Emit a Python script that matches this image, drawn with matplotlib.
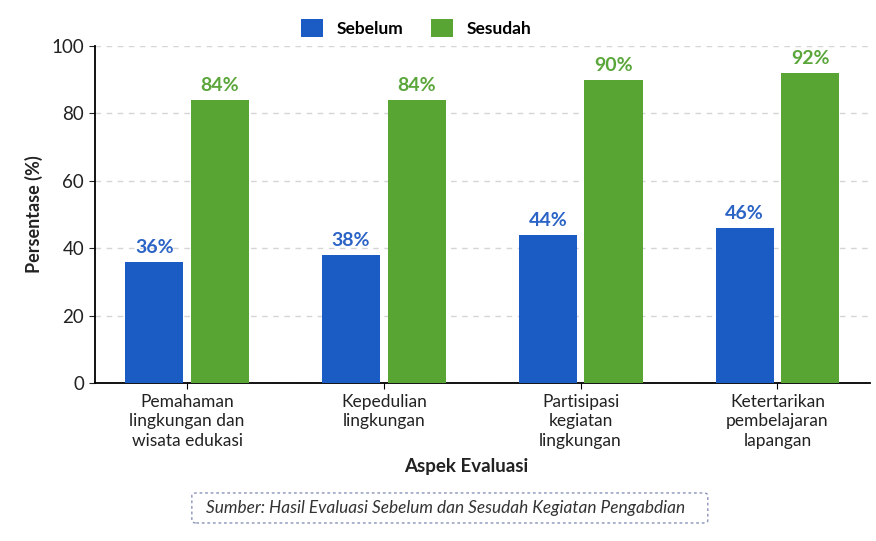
import matplotlib.pyplot as plt
import numpy as np
from matplotlib.patches import FancyBboxPatch

plt.rcParams['font.family'] = ['Lato', 'DejaVu Sans']

# Data
categories = ['Pemahaman\nlingkungan dan\nwisata edukasi',
              'Kepedulian\nlingkungan',
              'Partisipasi\nkegiatan\nlingkungan',
              'Ketertarikan\npembelajaran\nlapangan']
sebelum = [36, 38, 44, 46]
sesudah = [84, 84, 90, 92]

blue = '#1a5bc4'
green = '#58a534'
blue_txt = '#2b64c6'
green_txt = '#5ba63b'

fig = plt.figure(figsize=(8.76, 5.41), dpi=100)
ax = fig.add_axes([0.108, 0.292, 0.885, 0.623])

x = np.arange(len(categories))
w = 0.295
off = 0.167
b1 = ax.bar(x - off, sebelum, w, color=blue, label='Sebelum', zorder=3)
b2 = ax.bar(x + off, sesudah, w, color=green, label='Sesudah', zorder=3)

for rect, v in zip(b1, sebelum):
    ax.text(rect.get_x() + rect.get_width() / 2, v + 1.8, f'{v}%', ha='center', va='bottom',
            fontsize=14, fontweight='bold', color=blue_txt)
for rect, v in zip(b2, sesudah):
    ax.text(rect.get_x() + rect.get_width() / 2, v + 1.8, f'{v}%', ha='center', va='bottom',
            fontsize=14, fontweight='bold', color=green_txt)

ax.set_xlim(-0.47, 3.47)
ax.set_ylim(0, 100)
ax.set_yticks([0, 20, 40, 60, 80, 100])
ax.set_xticks(x)
ax.set_xticklabels(categories, fontsize=12.5, color='#222222', linespacing=1.25)
ax.tick_params(axis='y', labelsize=13.5, colors='#222222', length=4)
ax.tick_params(axis='x', length=4, pad=4)
ax.yaxis.grid(True, linestyle=(0, (4, 4)), color='#d5d5d5', linewidth=1, zorder=0)
ax.spines['top'].set_visible(False)
ax.spines['right'].set_visible(False)
ax.spines['left'].set_linewidth(1.3)
ax.spines['bottom'].set_linewidth(1.3)
ax.set_ylabel('Persentase (%)', fontsize=13, fontweight='bold', color='#222222', labelpad=6)

fig.text(0.532, 0.137, 'Aspek Evaluasi', ha='center', va='center', fontsize=13.5,
         fontweight='bold', color='#222222')

fig.legend(handles=[b1, b2], loc='center', bbox_to_anchor=(0.4755, 0.948), ncol=2,
           frameon=False, handlelength=1.25, handleheight=1.15,
           columnspacing=1.6, handletextpad=0.8,
           prop={'weight': 'bold', 'size': 12.5})

# source box
box = FancyBboxPatch((0.219, 0.0333), 0.589, 0.0555, boxstyle='round,pad=0,rounding_size=0.005',
                     transform=fig.transFigure, facecolor='white', edgecolor='#8a93b8',
                     linestyle=(0, (2, 2)), linewidth=1)
fig.patches.append(box)
fig.text(0.509, 0.061, 'Sumber: Hasil Evaluasi Sebelum dan Sesudah Kegiatan Pengabdian',
         ha='center', va='center', fontsize=12.4, style='italic', color='#333333')

fig.savefig('out.png', dpi=100)
